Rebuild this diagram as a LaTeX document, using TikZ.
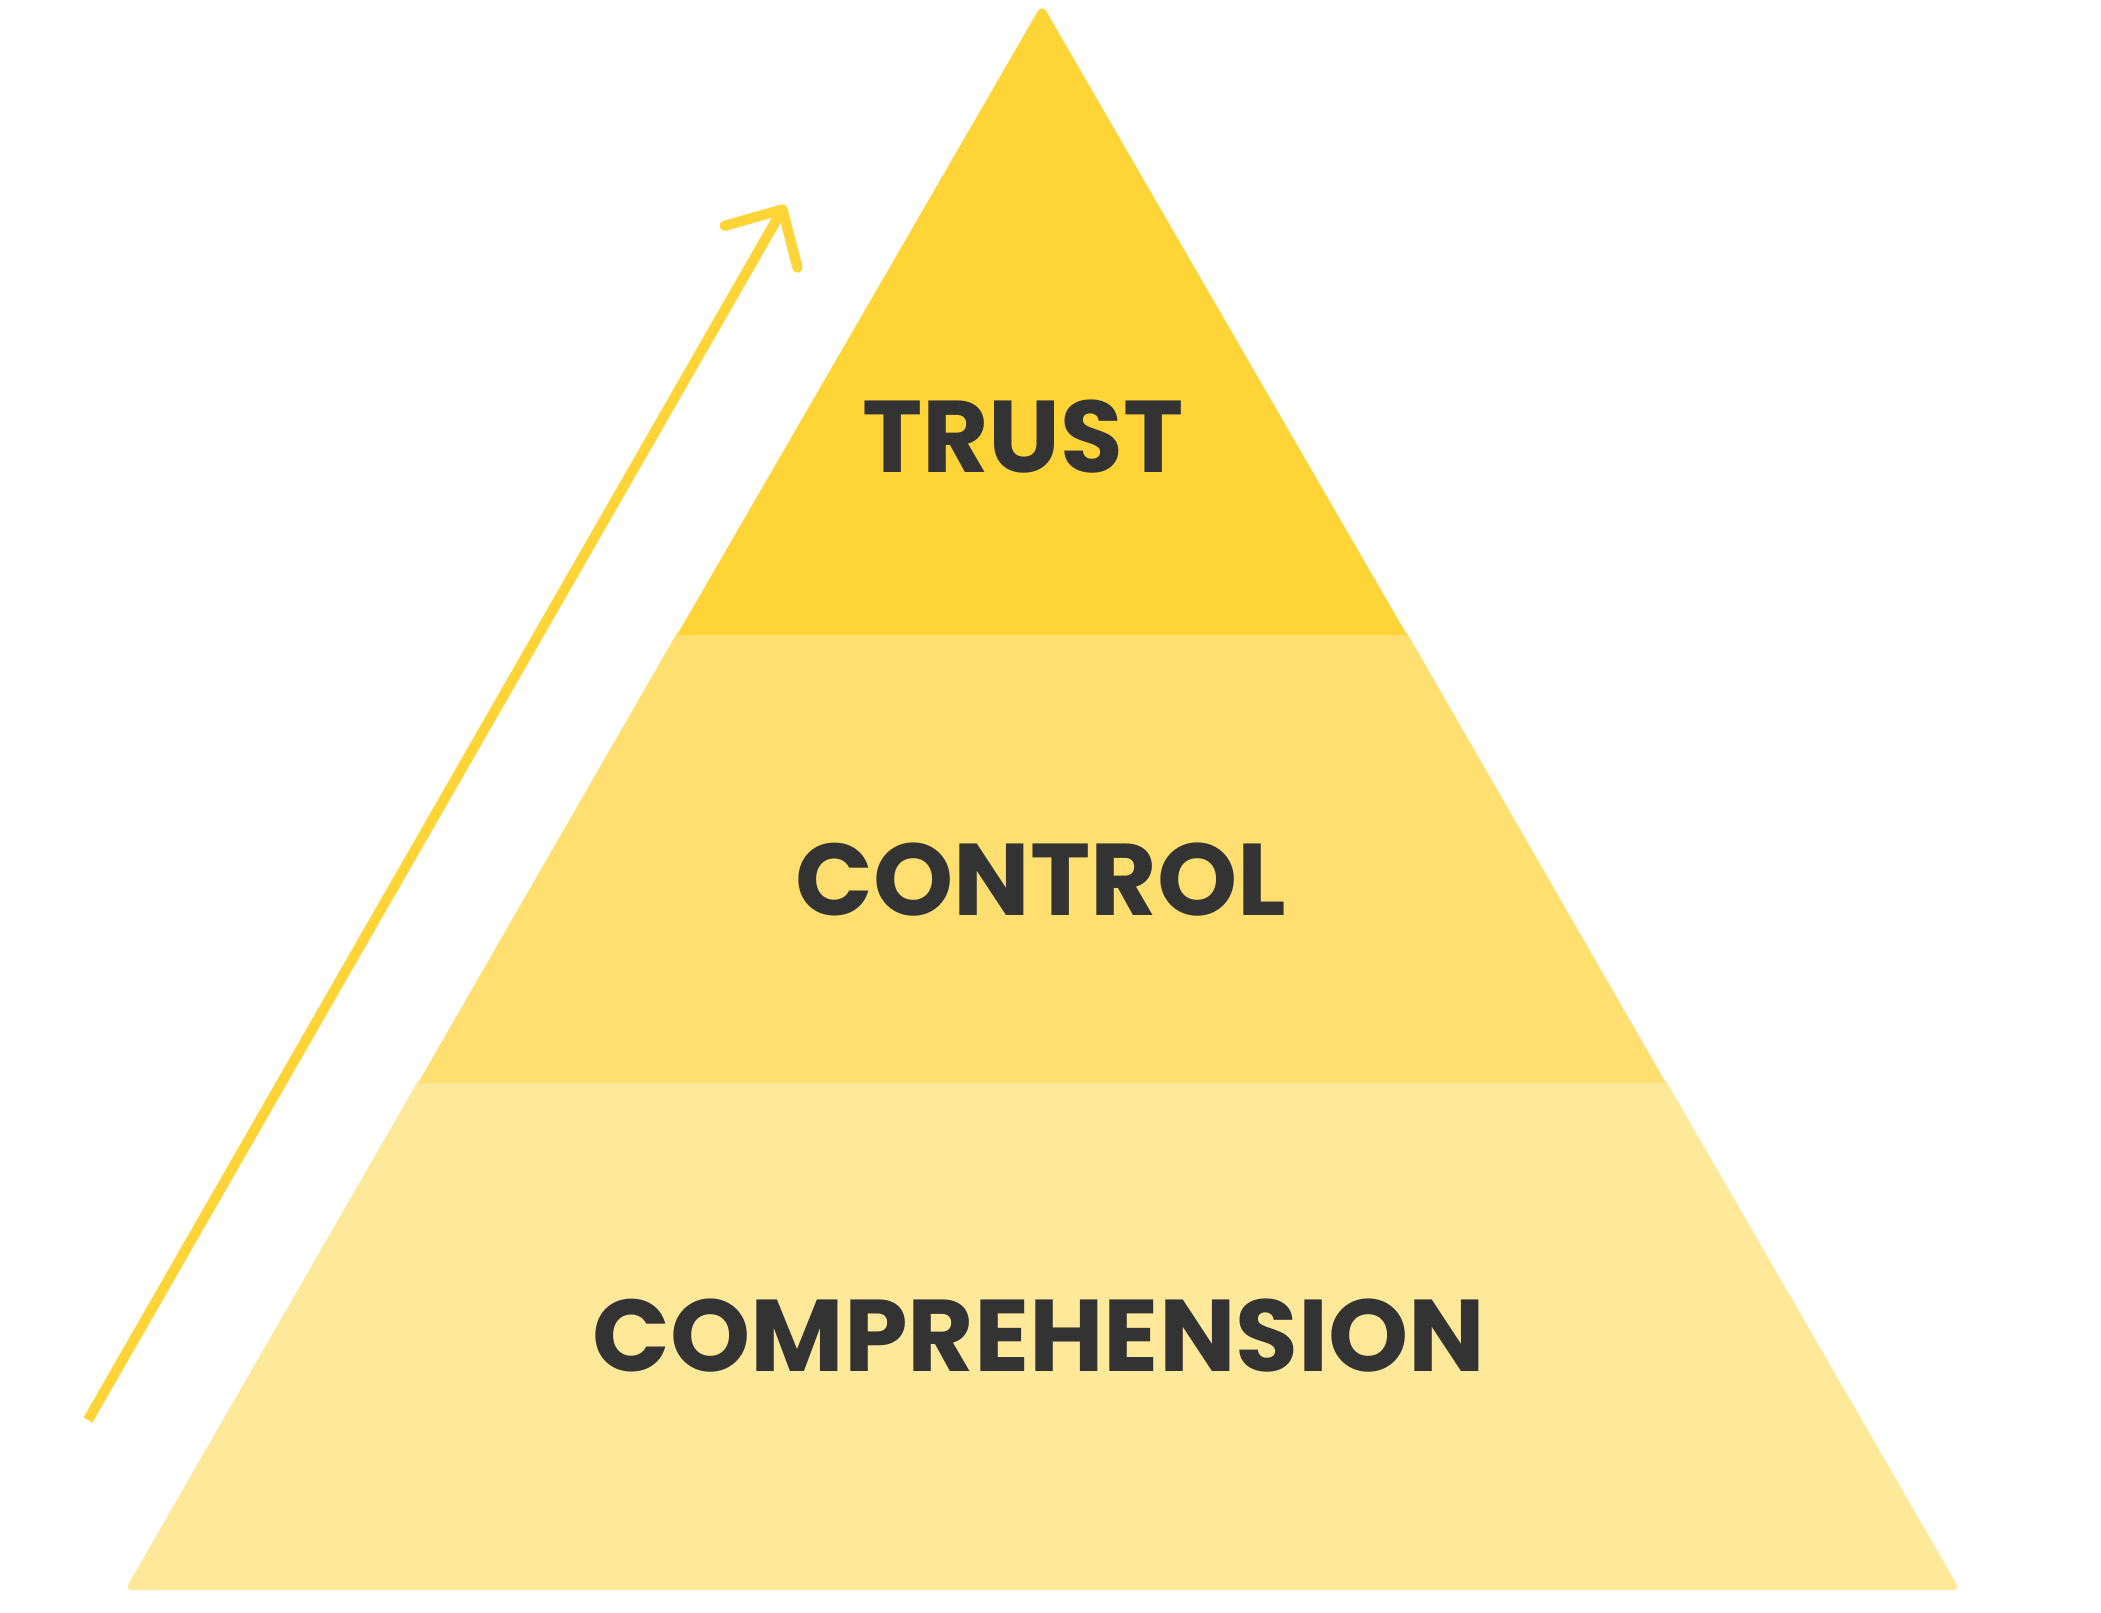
\documentclass[tikz,border=0pt]{standalone}
\usepackage{fontspec}
\setmainfont{Poppins}
\usetikzlibrary{arrows.meta,positioning,calc}
\definecolor{trustGold}{RGB}{255,212,55}
\definecolor{controlGold}{RGB}{255,223,111}
\definecolor{compGold}{RGB}{254,232,154}
\definecolor{labelGrey}{RGB}{51,51,51}
\tikzset{
  levellabel/.style={text=labelGrey,font=\fontsize{29}{34}\selectfont\bfseries,inner sep=0pt},
  climb/.style={trustGold,line width=2.9pt}
}

\begin{document}
\begin{tikzpicture}[x=0.01cm,y=-0.01cm]
  \useasboundingbox (0,0) rectangle (2101,1613);
  % bands of the pyramid
  \fill[compGold] (418,1081) -- (1666,1081) [rounded corners=2pt] -- (1960,1590) -- (125,1590) [sharp corners] -- cycle;
  \fill[controlGold] (418,1083) -- (677,633) -- (1407,633) -- (1666,1083) -- cycle;
  \fill[trustGold] (677,635) [rounded corners=2.5pt] -- (1042,4) [sharp corners] -- (1407,635) -- cycle;
  \node[levellabel] (trust) at (1023,437) {TRUST};
  \node[levellabel] (control) at (1041,880) {CONTROL};
  \node[levellabel] (comprehension) at (1039,1336) {COMPREHENSION};
  % arrow alongside
  \coordinate (climbfoot) at (88,1420);
  \coordinate (climbtop) at (785,205);
  \draw[climb,-{Straight Barb[length=4.3mm,width=8.4mm,round]}] (climbfoot) -- (climbtop);
\end{tikzpicture}
\end{document}
